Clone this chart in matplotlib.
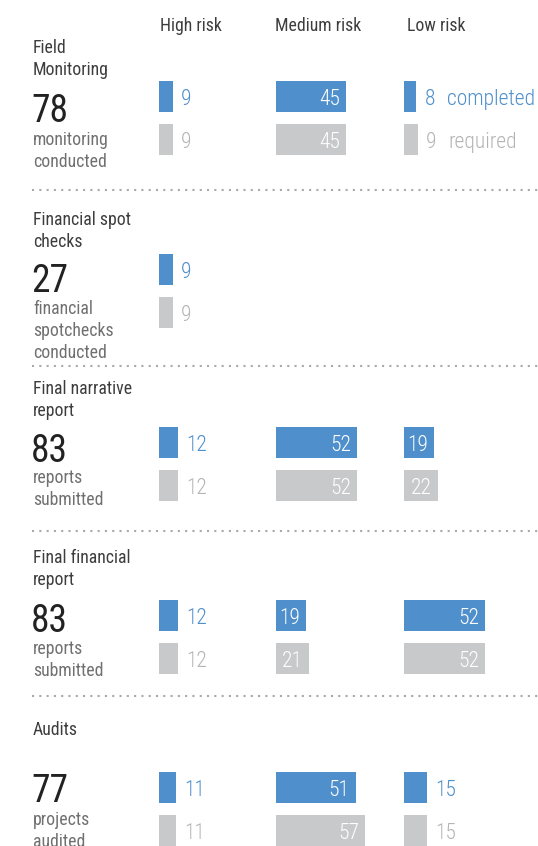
import matplotlib
matplotlib.use("Agg")
import matplotlib.pyplot as plt
from matplotlib import font_manager as fm

# ---------------- data ----------------
section_titles = ["Field\nMonitoring", "Financial spot\nchecks", "Final narrative\nreport",
                  "Final financial\nreport", "Audits"]
section_totals = [78, 27, 83, 83, 77]
section_subtitles = ["monitoring\nconducted", "financial\nspotchecks\nconducted",
                     "reports\nsubmitted", "reports\nsubmitted", "projects\naudited"]
risk_levels = ["High risk", "Medium risk", "Low risk"]
# per section: [high, medium, low]
completed = [[9, 45, 8], [9, None, None], [12, 52, 19], [12, 19, 52], [11, 51, 15]]
required = [[9, 45, 9], [9, None, None], [12, 52, 22], [12, 21, 52], [11, 57, 15]]
legend_labels = ["completed", "required"]

# ---------------- style / layout ----------------
W, H = 538, 846
BLUE = "#4f8fcc"
GRAY = "#c8c9cb"
GRAY_TXT = "#b4b4b4"
TITLE_C = "#3d3d3d"
SUB_C = "#707070"
NUM_C = "#222222"
DOT_C = "#a9a9a9"

names = {f.name for f in fm.fontManager.ttflist}
FONT = "DejaVu Sans"
for cand in ["Roboto Condensed", "Liberation Sans Narrow", "Roboto"]:
    if cand in names:
        FONT = cand
        break
plt.rcParams["font.family"] = [FONT, "DejaVu Sans"]

col_x = [159, 276, 404]          # bar left edges in px
head_x = [160, 275, 407]
PX_PER_UNIT = 1.56
blue_top = [81, 254, 427, 600, 772]
BAR_H = 31
GAP = 43
title_base = [53, 225, 394, 563, 735]
big_base = [122, 292, 462, 632, 802]
sub_base = [145, 314, 483, 654, 825]
sep_y = [190.5, 366.5, 531, 696]
LINE = 22
INSIDE_MIN = 18
LBL_FS = 15.5
LBL_W = "light"

fig = plt.figure(figsize=(W / 100, H / 100), dpi=100)
base = fig.add_axes([0, 0, 1, 1])
base.set_xlim(0, W)
base.set_ylim(H, 0)
base.axis("off")

TS = 12.8
# column headers
for x, lab in zip(head_x, risk_levels):
    base.text(x, 31, lab, fontsize=TS, color=TITLE_C, va="baseline", ha="left")

# left text blocks
for i in range(len(section_titles)):
    for j, line in enumerate(section_titles[i].split("\n")):
        base.text(33, title_base[i] + j * LINE, line, fontsize=TS, color=TITLE_C, va="baseline")
    base.text(31, big_base[i], str(section_totals[i]), fontsize=27, color=NUM_C, va="baseline")
    for j, line in enumerate(section_subtitles[i].split("\n")):
        base.text(33, sub_base[i] + j * LINE, line, fontsize=TS, color=SUB_C, va="baseline")

# dotted separators
for y in sep_y:
    base.plot([32, W], [y, y], color=DOT_C, lw=1.5, linestyle=(0, (1, 2.5)),
              dash_capstyle="butt")

# bar columns: one axes per column, x in data units
col_w = [110, 120, 134]
for c in range(3):
    ax = fig.add_axes([col_x[c] / W, 0, col_w[c] / W, 1])
    ax.set_xlim(0, col_w[c] / PX_PER_UNIT)
    ax.set_ylim(H, 0)
    ax.axis("off")
    ax.patch.set_alpha(0)
    for i in range(len(section_titles)):
        for k, (vals, color, tcol) in enumerate(((completed, BLUE, BLUE), (required, GRAY, GRAY_TXT))):
            v = vals[i][c]
            if v is None:
                continue
            yc = blue_top[i] + k * GAP + BAR_H / 2
            ax.barh(yc, v, height=BAR_H, left=0, color=color, linewidth=0)
            if v >= INSIDE_MIN:
                t = ax.annotate(str(v), xy=(v, yc + 8.5), xytext=(-6, 0), textcoords="offset pixels",
                                ha="right", va="baseline", fontsize=LBL_FS, fontweight=LBL_W,
                                color="white", annotation_clip=False)
            else:
                t = ax.annotate(str(v), xy=(v, yc + 8.5), xytext=(8, 0), textcoords="offset pixels",
                                ha="left", va="baseline", fontsize=LBL_FS, fontweight=LBL_W,
                                color=tcol, annotation_clip=False)
            if i == 0 and c == 2:
                ax.annotate(legend_labels[k], xy=(1, 0), xycoords=t, xytext=(12, 0),
                            textcoords="offset pixels", ha="left", va="bottom",
                            fontsize=LBL_FS, fontweight=LBL_W, color=tcol,
                            annotation_clip=False)

fig.savefig("out.png", dpi=100)
